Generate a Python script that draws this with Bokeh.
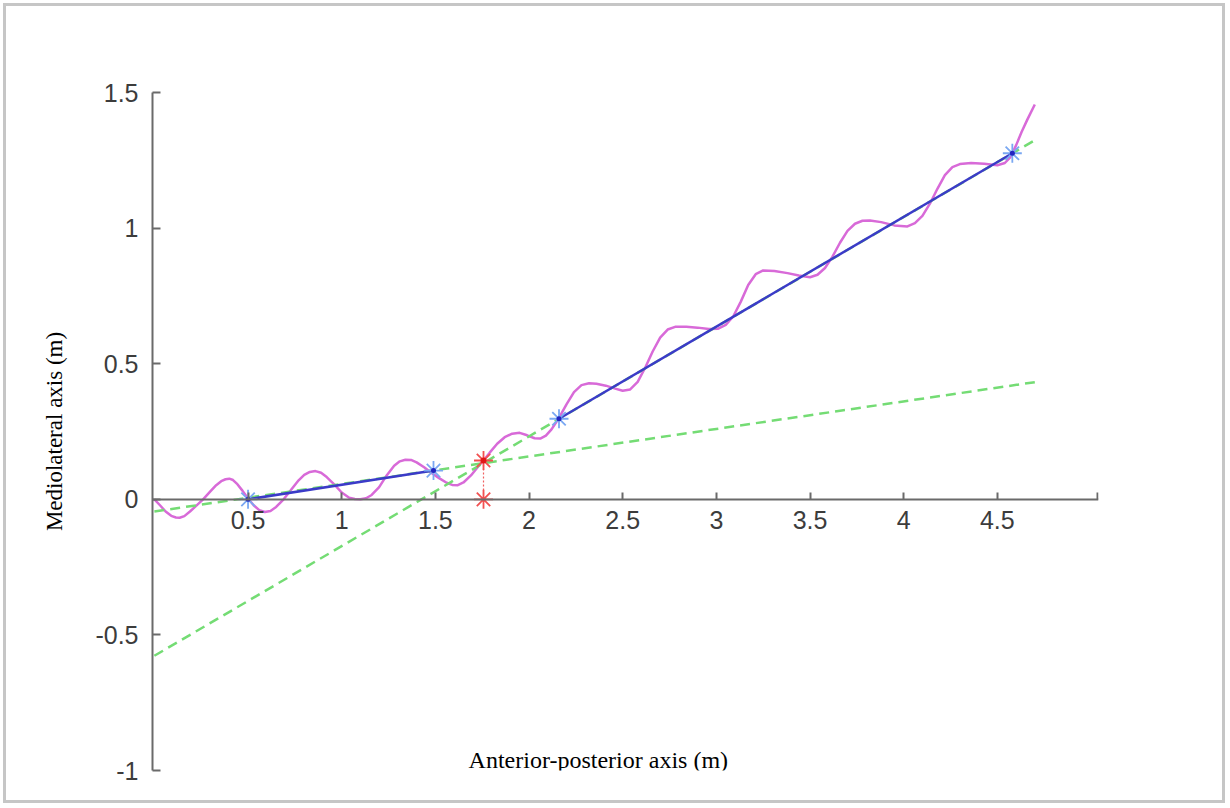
from bokeh.plotting import figure
from bokeh.models import FixedTicker, Label, Range1d
from bokeh.embed import file_html
from bokeh.resources import INLINE

# ---------------- data ----------------
x_ticks = [0.5, 1, 1.5, 2, 2.5, 3, 3.5, 4, 4.5]
x_tick_labels = ["0.5", "1", "1.5", "2", "2.5", "3", "3.5", "4", "4.5"]
x_end_tick = 5.035
y_ticks = [-1, -0.5, 0, 0.5, 1, 1.5]
y_tick_labels = ["-1", "-0.5", "0", "0.5", "1", "1.5"]

# centre-of-mass path (magenta)
path_x = [0.00, 0.03, 0.06, 0.09, 0.115, 0.135, 0.16, 0.19, 0.22, 0.26, 0.30, 0.33,
          0.36, 0.38, 0.40, 0.42, 0.44, 0.47, 0.50, 0.53, 0.56, 0.59, 0.62, 0.65,
          0.69, 0.73, 0.77, 0.80, 0.83, 0.86, 0.89, 0.92, 0.96, 1.00, 1.04, 1.07,
          1.10, 1.13, 1.16, 1.20, 1.24, 1.28, 1.31, 1.34, 1.37, 1.40, 1.44, 1.48,
          1.52, 1.56, 1.59, 1.62, 1.65, 1.69, 1.73, 1.757, 1.79, 1.83, 1.87, 1.91,
          1.95, 1.99, 2.03, 2.06, 2.09, 2.12, 2.16, 2.20, 2.24, 2.28, 2.32, 2.36,
          2.41, 2.46, 2.50, 2.54, 2.58, 2.62, 2.66, 2.70, 2.74, 2.78, 2.84, 2.90,
          2.96, 3.01, 3.05, 3.09, 3.13, 3.17, 3.21, 3.25, 3.31, 3.38, 3.44, 3.50,
          3.54, 3.58, 3.62, 3.66, 3.70, 3.74, 3.78, 3.82, 3.88, 3.95, 4.02, 4.06,
          4.10, 4.14, 4.18, 4.22, 4.26, 4.30, 4.36, 4.43, 4.50, 4.54, 4.57, 4.60,
          4.63, 4.66, 4.70]
path_y = [0.000, -0.022, -0.045, -0.061, -0.067, -0.068, -0.062, -0.045, -0.026, 0.000, 0.030, 0.052,
          0.068, 0.074, 0.076, 0.071, 0.058, 0.032, 0.003, -0.022, -0.040, -0.047, -0.043, -0.028,
          0.000, 0.035, 0.070, 0.090, 0.101, 0.104, 0.098, 0.082, 0.055, 0.025, 0.006, 0.001,
          0.000, 0.004, 0.016, 0.045, 0.088, 0.124, 0.140, 0.146, 0.145, 0.136, 0.118, 0.097,
          0.078, 0.061, 0.053, 0.052, 0.062, 0.088, 0.122, 0.143, 0.172, 0.205, 0.229, 0.242,
          0.245, 0.236, 0.225, 0.224, 0.235, 0.258, 0.300, 0.350, 0.395, 0.421, 0.428, 0.426,
          0.419, 0.408, 0.400, 0.405, 0.433, 0.485, 0.545, 0.596, 0.626, 0.636, 0.636, 0.633,
          0.628, 0.629, 0.643, 0.674, 0.728, 0.790, 0.830, 0.844, 0.842, 0.834, 0.825, 0.819,
          0.828, 0.853, 0.895, 0.946, 0.990, 1.016, 1.027, 1.028, 1.022, 1.010, 1.006, 1.018,
          1.045, 1.090, 1.145, 1.195, 1.225, 1.236, 1.240, 1.237, 1.232, 1.240, 1.262, 1.305,
          1.355, 1.400, 1.456]

# foot placements (blue stars / lines)
step_x = [0.50, 1.49, 2.16, 4.58]
step_y = [0.000, 0.106, 0.297, 1.276]

# fitted lines (green dashed)
fit1_x = [0.0, 4.70]
fit1_y = [-0.045, 0.432]
fit2_x = [0.0, 4.70]
fit2_y = [-0.577, 1.324]

# intersection (red)
cross_x = [1.757, 1.757]
cross_y = [0.143, 0.000]

x_title = "Anterior-posterior axis (m)"
y_title = "Mediolateral axis (m)"

# ---------------- figure ----------------
p = figure(width=1216, height=794,
           x_range=Range1d(-0.01, 5.04), y_range=Range1d(-1, 1.5),
           output_backend="svg", toolbar_location=None,
           min_border_left=146, min_border_right=124,
           min_border_top=86, min_border_bottom=30)
p.styles = {"outline": "3px solid #c6c6c6", "margin": "6px"}
p.outline_line_color = None
p.grid.visible = False
p.background_fill_color = "white"
p.border_fill_color = "white"

p.line(path_x, path_y, line_color="#d86ad8", line_width=2.5, line_join="round")
p.line(fit1_x, fit1_y, line_color="#74dc74", line_width=2.5, line_dash="10 6")
p.line(fit2_x, fit2_y, line_color="#74dc74", line_width=2.5, line_dash="10 6")
p.line(cross_x, cross_y, line_color="#f06060", line_width=1.2, line_dash="2 2")
p.line(step_x[0:2], step_y[0:2], line_color="#3b3bc8", line_width=2.5)
p.line(step_x[2:4], step_y[2:4], line_color="#3b3bc8", line_width=2.5)
p.scatter(step_x, step_y, marker="asterisk", size=19, line_color="#7aa8f2", line_width=1.8)
p.scatter(step_x, step_y, marker="circle", size=5, fill_color="#2323c0", line_color=None)
p.scatter(cross_x, cross_y, marker="asterisk", size=19, line_color="#f25050", line_width=1.8)
p.scatter(cross_x[:1], cross_y[:1], marker="circle", size=6, fill_color="#e01818", line_color=None)

# ---------------- axes ----------------
ax_col = "#6a6a6a"
xa = p.xaxis[0]
xa.fixed_location = 0
xa.ticker = FixedTicker(ticks=x_ticks + [x_end_tick])
ov = {t: s for t, s in zip(x_ticks, x_tick_labels)}
ov[x_end_tick] = ""
xa.major_label_overrides = ov
xa.major_tick_in = 7
xa.major_tick_out = 0
xa.minor_tick_line_color = None
xa.axis_line_color = ax_col
xa.axis_line_width = 2
xa.major_tick_line_color = ax_col
xa.major_tick_line_width = 2
xa.major_label_standoff = 12
xa.major_label_text_font = "Liberation Sans"
xa.major_label_text_font_size = "25px"
xa.major_label_text_color = "#3c3c3c"

ya = p.yaxis[0]
ya.ticker = FixedTicker(ticks=y_ticks)
ya.major_label_overrides = {t: s for t, s in zip(y_ticks, y_tick_labels)}
ya.major_tick_in = 8
ya.major_tick_out = 0
ya.minor_tick_line_color = None
ya.axis_line_color = ax_col
ya.axis_line_width = 2
ya.major_tick_line_color = ax_col
ya.major_tick_line_width = 2
ya.major_label_standoff = 14
ya.major_label_text_font = "Liberation Sans"
ya.major_label_text_font_size = "25px"
ya.major_label_text_color = "#3c3c3c"
ya.axis_label = y_title
ya.axis_label_text_font = "Liberation Serif"
ya.axis_label_text_font_style = "normal"
ya.axis_label_text_font_size = "23px"
ya.axis_label_text_color = "#000000"
ya.axis_label_standoff = 25

p.add_layout(Label(x=2.37, y=-0.963, text=x_title, text_align="center",
                   text_baseline="middle", text_font="Liberation Serif",
                   text_font_size="24px", text_color="#000000"))

open("out.html", "w").write(file_html(p, INLINE))
